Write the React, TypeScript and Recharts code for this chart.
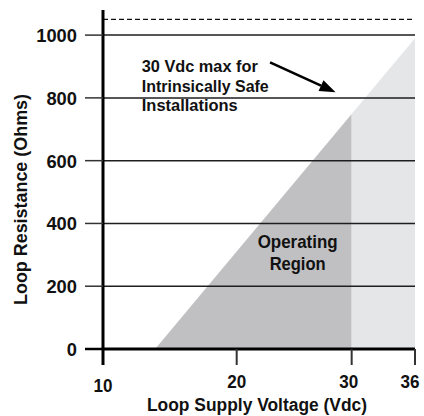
import React from "react";
import { ComposedChart, Area, XAxis, YAxis, ReferenceLine, ReferenceDot } from "recharts";

const FONT = "'Liberation Sans', Arial, Helvetica, sans-serif";

// printed voltage axis is not evenly spaced: tick values and where each sits along the axis (0..1)
const voltTicks = [10, 20, 30, 36];
const voltTickPos = [0, 0.4285, 0.797, 1];
const ohmTicks = [0, 200, 400, 600, 800, 1000];
const gridOhms = [200, 400, 600, 800, 1000];
const maxOhmsLine = 1050;

// operating envelope (Vdc vs Ohms)
const voltage = [13.9, 30, 36];
const operating = [0, 749, null];
const beyondIS = [null, 749, 990];

const data = voltage.map((v, i) => ({ v, operating: operating[i], beyondIS: beyondIS[i] }));

// annotation anchors, in data units
const noteAt = { x: 12.9, y: 882 };
const regionAt = { x: 25.3, y: 321 };
const arrowFrom = { x: 22.9, y: 913 };
const arrowTo = { x: 28.6, y: 818 };

const noteLines = ["30 Vdc max for", "Intrinsically Safe", "Installations"];
const noteWidths = [116, 127, 96];

function voltScale(): any {
  let dom = [10, 36];
  let rng = [0, 1];
  const s: any = (v: number) => {
    let i = 0;
    while (i < voltTicks.length - 2 && v > voltTicks[i + 1]) i++;
    const t = (v - voltTicks[i]) / (voltTicks[i + 1] - voltTicks[i]);
    const f = voltTickPos[i] + t * (voltTickPos[i + 1] - voltTickPos[i]);
    return rng[0] + f * (rng[1] - rng[0]);
  };
  s.domain = (d?: number[]) => {
    if (d === undefined) return dom;
    dom = [...d];
    return s;
  };
  s.range = (r?: number[]) => {
    if (r === undefined) return rng;
    rng = [...r];
    return s;
  };
  s.copy = () => voltScale().domain(dom).range(rng);
  s.ticks = () => voltTicks;
  s.tickFormat = () => (v: number) => String(v);
  return s;
}

// bold text squeezed to the condensed width of the original lettering
const Txt = ({ x, y, len, size, anchor = "start", children, ...rest }: any) => (
  <text x={x} y={y} textLength={len} lengthAdjust="spacingAndGlyphs" textAnchor={anchor}
    fontFamily={FONT} fontWeight="bold" fontSize={size} fill="#111" {...rest}>{children}</text>
);

const XTick = (props: any) => {
  const { x, y, payload } = props;
  const v = payload.value;
  const origin = v === voltTicks[0];
  const dx = v === 36 ? -5 : v === 30 ? -3 : 0;
  return (
    <g>
      <line x1={x} y1={y} x2={x} y2={y + 16} stroke={origin ? "#000" : "#333"} strokeWidth={origin ? 3 : 2} />
      <Txt x={x + dx} y={y + (origin ? 43 : 39)} len={19} size={19} anchor="middle">{v}</Txt>
    </g>
  );
};

const YTick = (props: any) => {
  const { x, y, payload } = props;
  const zero = payload.value === 0;
  const s = String(payload.value);
  return (
    <g>
      <line x1={x - 18} y1={y} x2={x} y2={y} stroke={zero ? "#000" : "#333"} strokeWidth={zero ? 2.5 : 1.5} />
      <Txt x={x - 26} y={y} dy="0.36em" len={s.length * 10.2} size={19} anchor="end">{s}</Txt>
    </g>
  );
};

const Arrow = (props: any) => {
  const { x1, y1, x2, y2 } = props;
  const a = Math.atan2(y2 - y1, x2 - x1);
  const len = 16;
  const w = 6;
  const bx = x2 - len * Math.cos(a);
  const by = y2 - len * Math.sin(a);
  const px = -Math.sin(a) * w;
  const py = Math.cos(a) * w;
  return (
    <g>
      <line x1={x1} y1={y1} x2={bx} y2={by} stroke="#000" strokeWidth={2.6} />
      <polygon points={`${x2},${y2} ${bx + px},${by + py} ${bx - px},${by - py}`} fill="#000" />
    </g>
  );
};

const NoteLabel = (props: any) => {
  const { x, y } = props.viewBox;
  return (
    <g>
      {noteLines.map((l, i) => (
        <Txt key={l} x={x} y={y + i * 19.5} len={noteWidths[i]} size={17}>{l}</Txt>
      ))}
    </g>
  );
};

const RegionLabel = (props: any) => {
  const { x, y } = props.viewBox;
  return (
    <g>
      <Txt x={x} y={y} len={80} size={19} anchor="middle">Operating</Txt>
      <Txt x={x} y={y + 22} len={56} size={19} anchor="middle">Region</Txt>
    </g>
  );
};

const XTitle = (props: any) => {
  const { x, y, width } = props.viewBox;
  return (
    <Txt x={x + width / 2 - 2} y={y + 62} len={220} size={18} anchor="middle">Loop Supply Voltage (Vdc)</Txt>
  );
};

const YTitle = (props: any) => {
  const { y, height } = props.viewBox;
  const cx = 27;
  const cy = y + height / 2 + 20;
  return (
    <Txt x={cx} y={cy} len={211} size={18} anchor="middle" transform={`rotate(-90, ${cx}, ${cy})`}>
      Loop Resistance (Ohms)
    </Txt>
  );
};

export default function App() {
  return (
    <div style={{ position: "absolute", left: 0, top: 0, width: 424, height: 416, background: "#fff" }}>
      <ComposedChart width={424} height={416} data={data} margin={{ top: 10, right: 9, bottom: 0, left: 0 }}>
        <Area dataKey="operating" type="linear" fill="#c0c0c2" fillOpacity={1} stroke="none"
          isAnimationActive={false} />
        <Area dataKey="beyondIS" type="linear" fill="#e5e6e8" fillOpacity={1} stroke="none"
          isAnimationActive={false} />
        {gridOhms.map(o => (
          <ReferenceLine key={o} y={o} stroke="#1e1e1e" strokeWidth={1.5} />
        ))}
        <ReferenceLine y={maxOhmsLine} stroke="#111" strokeWidth={1.3} strokeDasharray="5 3" />
        <ReferenceLine segment={[arrowFrom, arrowTo]} shape={Arrow} />
        <ReferenceDot x={noteAt.x} y={noteAt.y} r={0} fill="none" stroke="none" label={NoteLabel} />
        <ReferenceDot x={regionAt.x} y={regionAt.y} r={0} fill="none" stroke="none" label={RegionLabel} />
        <XAxis type="number" dataKey="v" domain={[10, 36]} scale={voltScale()} ticks={voltTicks} interval={0}
          allowDataOverflow height={67} axisLine={{ stroke: "#000", strokeWidth: 3 }} tickLine={false}
          tickSize={0} tickMargin={0} tick={<XTick />} label={<XTitle />} />
        <YAxis type="number" domain={[0, 1080]} ticks={ohmTicks} interval={0} allowDataOverflow width={103}
          axisLine={{ stroke: "#000", strokeWidth: 3 }} tickLine={false} tickSize={0} tickMargin={0}
          tick={<YTick />} label={<YTitle />} />
      </ComposedChart>
    </div>
  );
}
